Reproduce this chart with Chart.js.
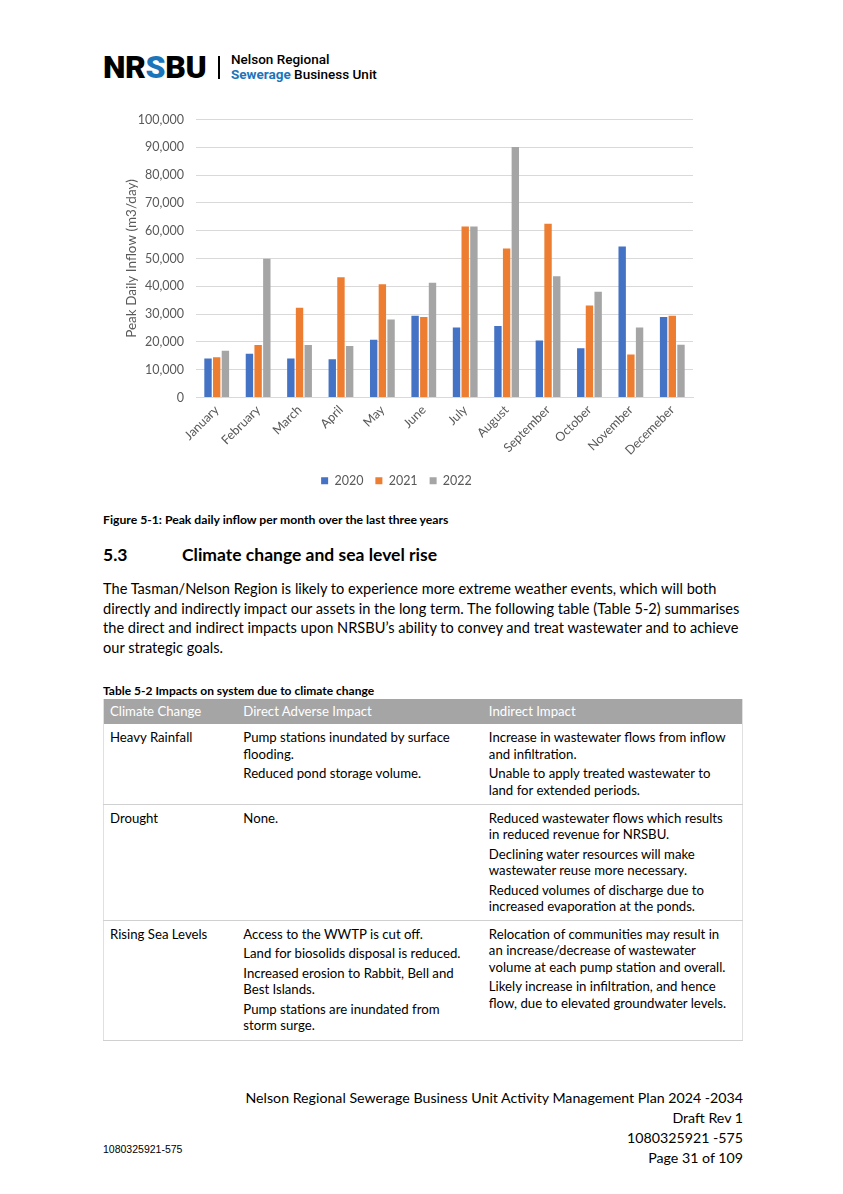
<!DOCTYPE html>
<html>
<head>
<meta charset="utf-8">
<script src="https://cdn.jsdelivr.net/npm/chart.js@4.4.0/dist/chart.umd.min.js"></script>
<style>
  body { margin: 0; background: #fff; width: 843px; height: 1194px; position: relative; font-family: Lato, "Open Sans", sans-serif; color: #000; }
  .abs { position: absolute; }
  #logo { left: 103px; top: 47px; height: 40px; }
  #logo .big { position: absolute; left: 0; top: 0; font-family: Roboto, sans-serif; font-weight: 900; font-size: 32px; letter-spacing: -0.4px; line-height: 40px; }
  #logo .bar { position: absolute; left: 115px; top: 9px; width: 2px; height: 23px; background: #000; }
  #logo .small { position: absolute; left: 128px; top: 5px; font-family: Roboto, sans-serif; font-weight: 500; font-size: 13.5px; line-height: 15px; white-space: nowrap; }
  .blue { color: #1b75bb; }
  #chartBox { left: 100px; top: 100px; width: 610px; height: 398px; }
  #caption { left: 103px; top: 512px; font-weight: bold; font-size: 12.2px; }
  #heading { left: 103px; top: 544px; font-weight: bold; font-size: 17.5px; }
  #heading span { display: inline-block; width: 79px; }
  #para { left: 103px; top: 579px; width: 650px; font-size: 14.6px; line-height: 19.5px; }
  #tcap { left: 103px; top: 683px; font-weight: bold; font-size: 12px; }
  table { position: absolute; left: 103px; top: 699px; width: 640px; border-collapse: collapse; font-size: 13.2px; line-height: 16.5px; border-left: 1px solid #e0e0e0; border-right: 1px solid #e0e0e0; }
  th { background: #a5a5a5; color: #fff; font-weight: normal; text-align: left; height: 25px; padding: 0 6px; }
  td { vertical-align: top; padding: 5px 6px 2px 6px; border-bottom: 1px solid #d0d0d0; }
  th:nth-child(3), td:nth-child(3) { padding-left: 9px; }
  td p { margin: 0 0 3px 0; }
  .foot { right: 100px; text-align: right; font-size: 14.2px; line-height: 20px; }
  #footL { left: 103px; top: 1143px; font-family: "Liberation Sans", Arial, sans-serif; font-size: 10.5px; }
</style>
</head>
<body>
<div id="logo" class="abs">
  <div class="big">NR<span class="blue">S</span>BU</div>
  <div class="bar"></div>
  <div class="small">Nelson Regional<br><span class="blue" style="font-weight:700">Sewerage</span> Business Unit</div>
</div>

<div id="chartBox" class="abs"><canvas id="myChart"></canvas></div>

<div id="caption" class="abs">Figure 5-1: Peak daily inflow per month over the last three years</div>
<div id="heading" class="abs"><span>5.3</span>Climate change and sea level rise</div>
<div id="para" class="abs">The Tasman/Nelson Region is likely to experience more extreme weather events, which will both directly and indirectly impact our assets in the long term. The following table (Table 5-2) summarises the direct and indirect impacts upon NRSBU’s ability to convey and treat wastewater and to achieve our strategic goals.</div>

<div id="tcap" class="abs">Table 5-2 Impacts on system due to climate change</div>
<table>
  <colgroup><col style="width:134px"><col style="width:243px"><col style="width:263px"></colgroup>
  <tr><th>Climate Change</th><th>Direct Adverse Impact</th><th>Indirect Impact</th></tr>
  <tr style="height:80px"><td>Heavy Rainfall</td><td><p>Pump stations inundated by surface flooding.</p><p>Reduced pond storage volume.</p></td><td><p>Increase in wastewater flows from inflow and infiltration.</p><p>Unable to apply treated wastewater to land for extended periods.</p></td></tr>
  <tr style="height:114px"><td>Drought</td><td><p>None.</p></td><td><p>Reduced wastewater flows which results in reduced revenue for NRSBU.</p><p>Declining water resources will make wastewater reuse more necessary.</p><p>Reduced volumes of discharge due to increased evaporation at the ponds.</p></td></tr>
  <tr style="height:120px"><td>Rising Sea Levels</td><td><p>Access to the WWTP is cut off.</p><p>Land for biosolids disposal is reduced.</p><p>Increased erosion to Rabbit, Bell and Best Islands.</p><p>Pump stations are inundated from storm surge.</p></td><td><p>Relocation of communities may result in an increase/decrease of wastewater volume at each pump station and overall.</p><p>Likely increase in infiltration, and hence flow, due to elevated groundwater levels.</p></td></tr>
</table>

<div class="abs foot" style="top:1088px">Nelson Regional Sewerage Business Unit Activity Management Plan 2024 -2034<br>Draft Rev 1<br>1080325921 -575<br>Page 31 of 109</div>
<div id="footL" class="abs">1080325921-575</div>

<script>
// peak daily inflow per month (m3/day)
const months = ["January", "February", "March", "April", "May", "June", "July", "August", "September", "October", "November", "Decemeber"];
const inflow2020 = [14000, 15700, 14000, 13800, 20800, 29400, 25200, 25700, 20500, 17700, 54300, 29000];
const inflow2021 = [14500, 18900, 32300, 43300, 40700, 29000, 61500, 53600, 62500, 33100, 15500, 29400];
const inflow2022 = [16800, 49900, 18900, 18500, 28100, 41300, 61500, 90100, 43600, 38000, 25200, 19000];
const seriesNames = ["2020", "2021", "2022"];
const seriesColors = ["#4472C4", "#ED7D31", "#A5A5A5"];

const tickFont = { family: "Lato, 'Open Sans', sans-serif", size: 12.5 };
const greyText = "#595959";

const ctx = document.getElementById("myChart").getContext("2d");
const allValues = [inflow2020, inflow2021, inflow2022];

var chartData = {
  type: "bar",
  data: {
    labels: months,
    datasets: allValues.map((vals, i) => ({
      label: seriesNames[i],
      data: vals,
      backgroundColor: seriesColors[i],
      borderWidth: 0,
      barPercentage: 0.85,
      categoryPercentage: 0.63
    }))
  },
  options: {
    responsive: true,
    maintainAspectRatio: false,
    animation: false,
    layout: { padding: { top: 4, right: 17, left: 0, bottom: 1 } },
    scales: {
      x: {
        grid: { display: false, drawTicks: false },
        border: { display: true, color: "#d9d9d9", width: 1 },
        ticks: { color: greyText, font: tickFont, minRotation: 45, maxRotation: 45, padding: 5 },
        afterFit: (axis) => { axis.height = 65; }
      },
      y: {
        min: 0,
        max: 100000,
        grid: { color: "#d9d9d9", drawTicks: false },
        border: { display: false },
        ticks: { stepSize: 10000, color: greyText, font: tickFont, padding: 12 },
        title: { display: true, text: "Peak Daily Inflow (m3/day)", color: greyText, font: { family: tickFont.family, size: 13.5 }, padding: { top: 24, bottom: 0 } },
        afterFit: (axis) => { axis.width = 96; }
      }
    },
    plugins: {
      tooltip: { enabled: false },
      legend: {
        display: true,
        position: "bottom",
        labels: { boxWidth: 7, boxHeight: 7, color: greyText, font: tickFont, padding: 12 }
      }
    }
  }
};
var inflowChart = new Chart(ctx, chartData);
</script>
</body>
</html>
